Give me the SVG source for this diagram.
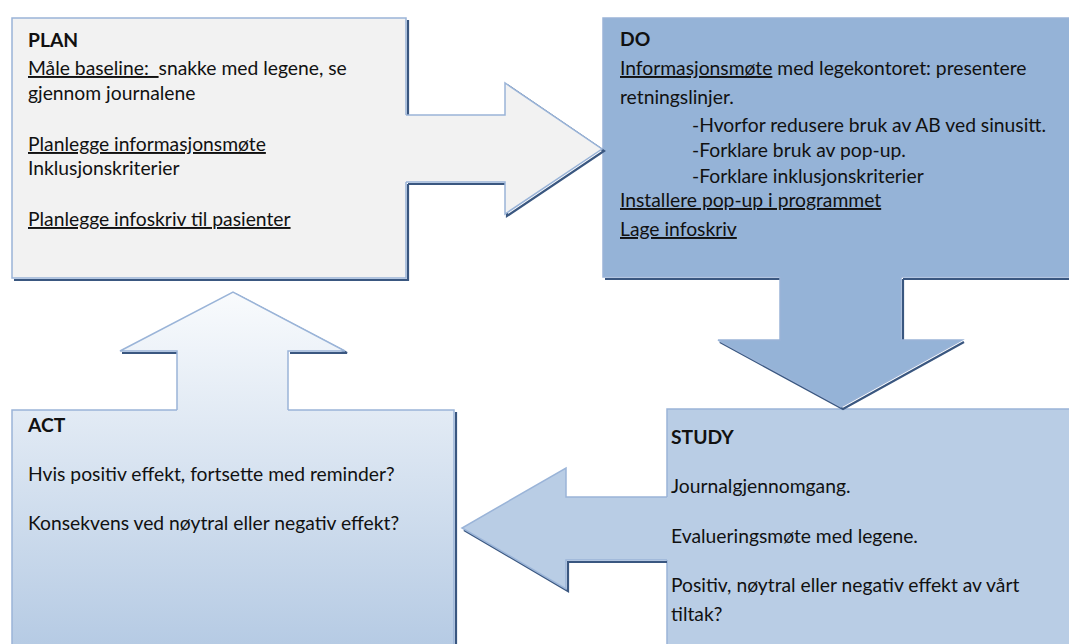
<svg xmlns="http://www.w3.org/2000/svg" width="1069" height="644" viewBox="0 0 1069 644">
<defs>
<linearGradient id="actGrad" gradientUnits="userSpaceOnUse" x1="0" y1="292" x2="0" y2="644">
<stop offset="0" stop-color="#f9fbfd"/>
<stop offset="1" stop-color="#b6cbe4"/>
</linearGradient>
<style>
.edge{fill:none;stroke:#9ab4d8;stroke-width:1.5;stroke-linejoin:miter}
.shadow{fill:none;stroke:#3a5780;stroke-width:2.2;stroke-linejoin:miter}
.t{font-family:Lato,"Liberation Sans",sans-serif;font-size:19.3px;fill:#111;white-space:pre}
.b{font-weight:bold}
.u{text-decoration:underline}
</style>
</defs>
<rect width="1069" height="644" fill="#ffffff"/>

<g id="plan">
<path class="shadow" transform="translate(2,2)" d="M406,115 V18 M12,278 H406 V182"/>
<rect x="12" y="18" width="394" height="260" fill="#f2f2f2"/>
<path class="edge" d="M406,115 V18 H12 V278 H406 V182"/>
<text class="t b" x="28" y="47">PLAN</text>
<text class="t" x="28" y="75"><tspan class="u">Måle baseline:  </tspan>snakke med legene, se</text>
<text class="t" x="28" y="100">gjennom journalene</text>
<text class="t u" x="28" y="151">Planlegge informasjonsmøte</text>
<text class="t" x="28" y="175">Inklusjonskriterier</text>
<text class="t u" x="28" y="226">Planlegge infoskriv til pasienter</text>
</g>

<g id="do">
<path class="shadow" transform="translate(2,2)" d="M603,277 H780 M901,277 H1075"/>
<rect x="603" y="18" width="470" height="259" fill="#95b3d7"/>
<path class="edge" d="M780,277 H603 V18 H1075 M901,277 H1075" stroke="#a6bfdf"/>
<text class="t b" x="620" y="46">DO</text>
<text class="t" x="620" y="75"><tspan class="u">Informasjonsmøte</tspan> med legekontoret: presentere</text>
<text class="t" x="620" y="104">retningslinjer.</text>
<text class="t" x="692" y="132">-Hvorfor redusere bruk av AB ved sinusitt.</text>
<text class="t" x="692" y="157">-Forklare bruk av pop-up.</text>
<text class="t" x="692" y="183">-Forklare inklusjonskriterier</text>
<text class="t u" x="620" y="207">Installere pop-up i programmet</text>
<text class="t u" x="620" y="236">Lage infoskriv</text>
</g>

<g id="study">
<rect x="667" y="409" width="410" height="240" fill="#b9cde5"/>
<path class="edge" d="M667,497 V409 H1075 M667,560 V650"/>
<text class="t b" x="671" y="444">STUDY</text>
<text class="t" x="671" y="493">Journalgjennomgang.</text>
<text class="t" x="671" y="543">Evalueringsmøte med legene.</text>
<text class="t" x="671" y="592">Positiv, nøytral eller negativ effekt av vårt</text>
<text class="t" x="671" y="621">tiltak?</text>
</g>

<g id="act">
<path class="shadow" transform="translate(2,2)" d="M454,410 V650"/>
<rect x="12" y="410" width="442" height="240" fill="url(#actGrad)"/>
<path class="edge" d="M177,410 H12 V650 M288,410 H454 V650"/>
<text class="t b" x="28" y="432">ACT</text>
<text class="t" x="28" y="481">Hvis positiv effekt, fortsette med reminder?</text>
<text class="t" x="28" y="530">Konsekvens ved nøytral eller negativ effekt?</text>
</g>

<g id="connectors">
<g id="plan-to-do">
<path class="shadow" transform="translate(2,2)" d="M406,182 H505 V214 L602,149 L505,83"/>
<path d="M404,115 H505 V83 L602,149 L505,214 V182 H404 Z" fill="#f2f2f2"/>
<path class="edge" d="M406,115 H505 V83 L602,149 L505,214 V182 H406"/>
</g>
<g id="do-to-study">
<path class="shadow" transform="translate(2,2)" d="M780,277 V340 H718 L841,407 L962,340 M901,277 V340"/>
<path d="M780,275 V340 H718 L841,407 L962,340 H901 V275 Z" fill="#95b3d7"/>
<path class="edge" d="M780,277 V340 H718 L841,407 L962,340 H901 V277" stroke="#a6bfdf"/>
</g>
<g id="study-to-act">
<path class="shadow" transform="translate(2,2)" d="M665,560 H566 V589 L462,528"/>
<path d="M669,497 H566 V468 L462,528 L566,589 V560 H669 Z" fill="#b9cde5"/>
<path class="edge" d="M667,497 H566 V468 L462,528 L566,589 V560 H667"/>
</g>
<g id="act-to-plan">
<path class="shadow" transform="translate(2,2)" d="M120,351 H177 M288,351 H345 L233,292"/>
<path d="M177,412 V351 H120 L233,292 L345,351 H288 V412 Z" fill="url(#actGrad)"/>
<path class="edge" d="M177,410 V351 H120 L233,292 L345,351 H288 V410"/>
</g>
</g>
</svg>
